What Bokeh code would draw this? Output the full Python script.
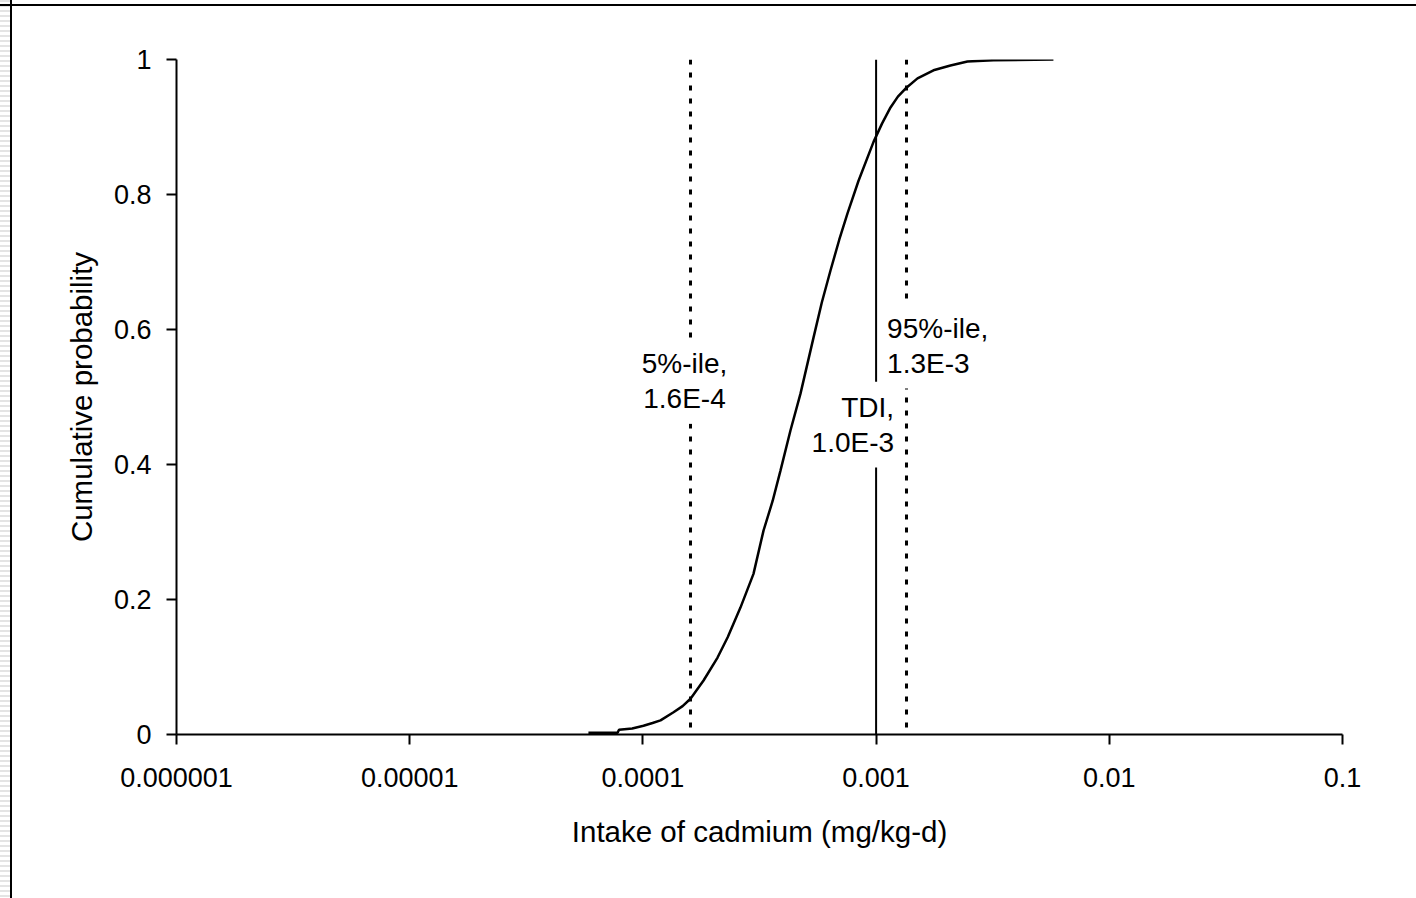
from bokeh.plotting import figure
from bokeh.models import FixedTicker, CustomJSTickFormatter, Span, Label
from bokeh.embed import file_html
from bokeh.resources import INLINE

# ---- data ----
intake = [5.84e-5, 7.78e-5, 7.9e-5, 9.0e-5, 1.006e-4, 1.10e-4, 1.19e-4, 1.353e-4,
          1.48e-4, 1.60e-4, 1.82e-4, 2.09e-4, 2.31e-4, 2.62e-4, 2.98e-4, 3.29e-4,
          3.60e-4, 3.89e-4, 4.29e-4, 4.74e-4, 5.39e-4, 5.85e-4, 6.37e-4, 6.95e-4,
          7.54e-4, 8.40e-4, 9.75e-4, 1.06e-3, 1.153e-3, 1.24e-3, 1.337e-3, 1.505e-3,
          1.762e-3, 2.084e-3, 2.465e-3, 3.187e-3, 5.76e-3]
cum_prob = [0.0025, 0.0025, 0.007, 0.009, 0.013, 0.017, 0.021, 0.033,
            0.042, 0.053, 0.080, 0.114, 0.144, 0.188, 0.238, 0.302,
            0.346, 0.391, 0.450, 0.505, 0.588, 0.640, 0.687, 0.733,
            0.772, 0.820, 0.878, 0.905, 0.929, 0.945, 0.957, 0.972,
            0.984, 0.991, 0.997, 0.999, 1.0]

pct5 = 1.6e-4
tdi = 1.0e-3
pct95 = 1.35e-3
pct5_label = "5%-ile,\n1.6E-4"
tdi_label = "TDI,\n1.0E-3"
pct95_label = "95%-ile,\n1.3E-3"

x_ticks = [1e-6, 1e-5, 1e-4, 1e-3, 1e-2, 1e-1]
x_tick_labels = ["0.000001", "0.00001", "0.0001", "0.001", "0.01", "0.1"]
y_ticks = [0, 0.2, 0.4, 0.6, 0.8, 1]
y_tick_labels = ["0", "0.2", "0.4", "0.6", "0.8", "1"]

x_title = "Intake of cadmium (mg/kg-d)"
y_title = "Cumulative probability"

FONT = "Liberation Sans"
FS = "27px"
FS_TITLE = "29.5px"
FS_NOTE = "28px"

p = figure(width=1416, height=898, x_axis_type="log",
           x_range=(1e-6, 0.1), y_range=(0, 1),
           output_backend="svg", toolbar_location=None,
           min_border_left=176, min_border_right=74,
           min_border_top=59, min_border_bottom=164)
p.outline_line_color = None
p.xgrid.grid_line_color = None
p.ygrid.grid_line_color = None
p.background_fill_color = "white"
p.border_fill_color = None
p.styles = {"background": (
    "linear-gradient(to right, transparent 0 10px, #000 10px 12px, transparent 12px),"
    "linear-gradient(to bottom, transparent 0 4px, #000 4px 6px, transparent 6px),"
    "repeating-linear-gradient(to bottom, #e4e4e4 0 2px, #ffffff 2px 5px) 0 0 / 10px 100% no-repeat,"
    "#ffffff")}

p.line(intake, cum_prob, line_color="black", line_width=2.5)

for xv, dash, w in [(pct5, "5 8", 3), (pct95, "5 8", 3), (tdi, "solid", 2)]:
    p.add_layout(Span(location=xv, dimension="height", line_color="black",
                      line_width=w, line_dash=dash))

def lab(x, y, text, align, xoff):
    return Label(x=x, y=y, text=text, text_align=align, text_baseline="middle",
                 x_offset=xoff, text_font=FONT, text_font_size=FS_NOTE,
                 text_line_height=1.12, text_color="black",
                 background_fill_color="white",
                 padding=dict(left=4, right=4, top=10, bottom=10))

p.add_layout(lab(pct5, 0.524, pct5_label, "center", -6))
p.add_layout(lab(tdi, 0.576, pct95_label, "left", 7))
p.add_layout(lab(tdi, 0.459, tdi_label, "right", 22))

xf = CustomJSTickFormatter(args=dict(tv=x_ticks, tl=x_tick_labels), code="""
let best = 0, bd = 1e9;
for (let k = 0; k < tv.length; k++) {
  const d = Math.abs(Math.log10(tv[k]) - Math.log10(tick));
  if (d < bd) { bd = d; best = k; }
}
return tl[best];
""")
yf = CustomJSTickFormatter(args=dict(tv=y_ticks, tl=y_tick_labels), code="""
let best = 0, bd = 1e9;
for (let k = 0; k < tv.length; k++) {
  const d = Math.abs(tv[k] - tick);
  if (d < bd) { bd = d; best = k; }
}
return tl[best];
""")

for ax, tks, fmt, title in [(p.xaxis[0], x_ticks, xf, x_title), (p.yaxis[0], y_ticks, yf, y_title)]:
    ax.ticker = FixedTicker(ticks=tks, minor_ticks=[])
    ax.formatter = fmt
    ax.axis_label = title
    ax.axis_label_text_font = FONT
    ax.axis_label_text_font_size = FS_TITLE
    ax.axis_label_text_font_style = "normal"
    ax.axis_label_text_color = "black"
    ax.major_label_text_font = FONT
    ax.major_label_text_font_size = FS
    ax.major_label_text_color = "black"
    ax.axis_line_color = "black"
    ax.axis_line_width = 2
    ax.major_tick_line_color = "black"
    ax.major_tick_line_width = 2
    ax.major_tick_in = 0
    ax.major_tick_out = 10
    ax.minor_tick_line_color = None

p.xaxis.major_label_standoff = 23
p.xaxis.axis_label_standoff = 25
p.yaxis.major_label_standoff = 15
p.yaxis.axis_label_standoff = 13

open("out.html", "w").write(file_html(p, INLINE))
